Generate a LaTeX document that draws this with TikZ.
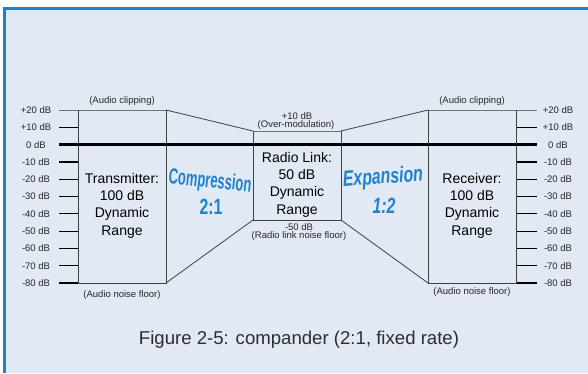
\documentclass[tikz,border=0pt]{standalone}
\usepackage{fontspec}
\setmainfont{Liberation Sans}
\definecolor{bgblue}{RGB}{225,233,245}
\definecolor{frameblue}{RGB}{30,128,200}
\definecolor{txtblue}{RGB}{32,130,205}
\definecolor{capgray}{RGB}{45,45,45}
\tikzset{
  tickline/.style={line width=1.2pt, black},
  boxline/.style={line width=0.8pt, black!75},
  topline/.style={line width=0.8pt, black!55},
  zeroline/.style={line width=2.6pt, black},
  small/.style={font=\fontsize{9.5}{10}\selectfont, text=black!85, inner sep=0pt},
  boxtext/.style={font=\fontsize{14}{17.3}\selectfont, align=center, inner sep=0pt},
  comptext/.style={font=\fontsize{22}{24}\selectfont\bfseries, text=txtblue, inner sep=0pt},
}
\begin{document}
\begin{tikzpicture}[x=1pt,y=-1pt]
\useasboundingbox (0,0) rectangle (588,373);
\fill[white] (0,0) rectangle (588,373);
\fill[bgblue] (3,7) rectangle (588,373);
\fill[frameblue] (3,7) rectangle (588,10);
\fill[frameblue] (3,7) rectangle (6,373);

% corners
\coordinate (t1) at (78,110);  \coordinate (t2) at (166,110);
\coordinate (t3) at (166,283); \coordinate (t4) at (78,283);
\coordinate (r1) at (253,131); \coordinate (r2) at (341,131);
\coordinate (r3) at (341,220); \coordinate (r4) at (253,220);
\coordinate (x1) at (428,110); \coordinate (x2) at (516,110);
\coordinate (x3) at (516,283); \coordinate (x4) at (428,283);

% scale ticks and labels
\foreach \v [count=\i from 0] in {+20,+10,0,-10,-20,-30,-40,-50,-60,-70,-80}{
  \pgfmathsetmacro{\yy}{110+17.3*\i}
  \coordinate (la\i) at (59,\yy);  \coordinate (lb\i) at (78,\yy);
  \coordinate (ra\i) at (516,\yy); \coordinate (rb\i) at (537,\yy);
  \ifnum\i=0
    \draw[topline] (la\i) -- (lb\i);
    \draw[topline] (ra\i) -- (rb\i);
  \else
    \draw[tickline] (la\i) -- (lb\i);
    \draw[tickline] (ra\i) -- (rb\i);
  \fi
  \node[small] (ll\i) at (36,\yy) {\v\ dB};
  \node[small] (rl\i) at (558,\yy) {\v\ dB};
}

% boxes
\draw[topline] (t1) -- (t2);
\draw[boxline] (t1) -- (t4) -- (t3) -- (t2);
\draw[topline] (r1) -- (r2);
\draw[boxline] (r1) -- (r4) -- (r3) -- (r2);
\draw[topline] (x1) -- (x2);
\draw[boxline] (x1) -- (x4) -- (x3) -- (x2);

% compression / expansion slopes
\draw[boxline] (t2) -- (r1);
\draw[boxline] (t3) -- (r4);
\draw[boxline] (r2) -- (x1);
\draw[boxline] (r3) -- (x4);

% 0 dB line
\draw[zeroline] (la2) -- (rb2);

% box texts
\node[boxtext] (tx) at (122,205.5) {Transmitter:\\100 dB\\Dynamic\\Range};
\node[boxtext] (rl) at (297,184.5) {Radio Link:\\50 dB\\Dynamic\\Range};
\node[boxtext] (rx) at (472,205.5) {Receiver:\\100 dB\\Dynamic\\Range};

% compression / expansion labels
\node[comptext, rotate=-6] (comp) at (210,182) {\scalebox{0.59}[1]{Compression}};
\node[comptext] (c21) at (211,207) {\scalebox{0.72}[1]{2:1}};
\node[comptext, rotate=4] (exp) at (383,178) {\scalebox{0.72}[1]{\itshape Expansion}};
\node[comptext] (e12) at (384,206) {\scalebox{0.72}[1]{\itshape 1:2}};

% small annotations
\node[small] (ac1) at (122,101) {(Audio clipping)};
\node[small] (ac2) at (472,101) {(Audio clipping)};
\node[small] (om1) at (297,116) {+10 dB};
\node[small] (om2) at (296,125) {(Over-modulation)};
\node[small] (nf1) at (299,227) {-50 dB};
\node[small] (nf2) at (299,236) {(Radio link noise floor)};
\node[small] (an1) at (122,295) {(Audio noise floor)};
\node[small] (an2) at (472,292) {(Audio noise floor)};

% caption
\node[font=\fontsize{18.6}{20}\selectfont, text=capgray, inner sep=0pt] (cap) at (299,340) {Figure 2-5: compander (2:1, fixed rate)};
\end{tikzpicture}
\end{document}
